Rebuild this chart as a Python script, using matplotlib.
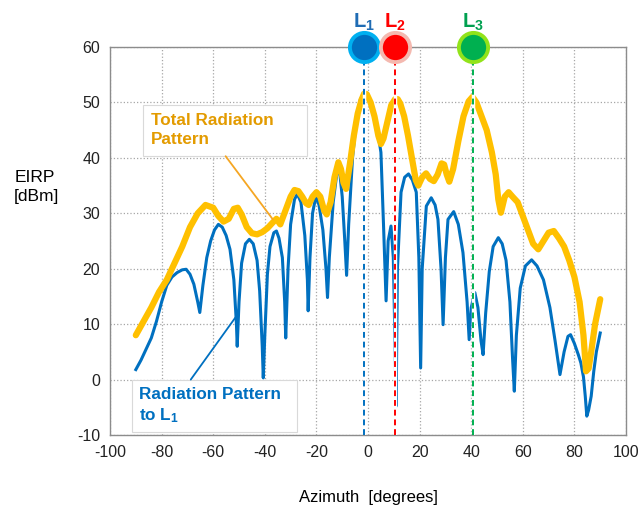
import matplotlib
matplotlib.use("Agg")
from matplotlib import pyplot as plt
from matplotlib.patches import Rectangle

plt.rcParams['font.family'] = ['Liberation Sans', 'DejaVu Sans']
plt.rcParams['mathtext.fontset'] = 'custom'
plt.rcParams['mathtext.rm'] = 'Liberation Sans'
plt.rcParams['mathtext.bf'] = 'Liberation Sans:bold'
plt.rcParams['axes.unicode_minus'] = False

# total radiation pattern (yellow)
total_az = [-90, -87, -84, -81, -78, -75, -72, -69, -66, -63, -60, -58, -56, -54, -52,
            -50.5, -49, -47, -45, -43, -41, -39, -37, -35.5, -34, -32, -30, -28.5, -27,
            -25.5, -24, -23, -21.5, -20, -18.5, -17, -16, -14.5, -13, -11.5, -10.5, -9.5,
            -8.5, -7, -5.5, -4, -2.5, -1.5, -0.5, 1, 2.5, 4, 5, 6, 7.5, 9, 10.5, 11.5,
            12.5, 14, 15.5, 17, 18.5, 19.5, 21, 22.5, 24, 25.5, 27, 28.5, 29.5, 30.5,
            31.5, 33, 35, 37, 39, 40.5, 42, 44, 46, 48, 49.5, 50.5, 51.5, 53, 54.5, 56,
            58, 60, 62, 64, 66, 68, 70, 72, 74, 76, 78, 80, 82, 83.5, 84.5, 85.5, 86.5,
            88, 90]
total_eirp = [8.0, 10.5, 13, 15.8, 18, 21, 24, 27.5, 30, 31.5, 31, 29.5, 28.5, 29, 30.8,
              31, 29.8, 27.5, 26.4, 26.2, 26.6, 27.3, 28.3, 29, 28, 30.5, 33, 34.2, 34,
              33, 31.8, 31.5, 33, 33.8, 33, 30.5, 29.8, 32, 36.5, 39.2, 38, 35.5,
              34.4, 39, 44, 48, 50.5, 51.6, 51.5, 50, 47.5, 44, 42.5, 43.5, 46.5, 49.5, 50.6, 50.6,
              49.8, 47.5, 44, 40, 36, 35, 36.5, 37.2, 36.2, 35.8, 37, 39, 38.8, 37,
              35.7, 38, 43, 47.5, 50.2, 51, 50, 47.5, 45, 41, 37, 32.5, 30.1, 33, 33.8, 33,
              32, 29.5, 27, 24.5, 23.5, 25, 26.5, 26.8, 25.5, 24, 21.5, 18.5, 14, 8, 1.5, 2, 5,
              10, 14.5]

# radiation pattern to L1 (blue)
l1_az = [-90, -88, -86, -84, -82, -80, -78, -76, -74, -72, -70.5, -69, -67.5, -66, -65.2,
         -64, -62.5, -61, -59.5, -58, -56.5, -55, -53.5, -52, -51, -50.7, -50, -49, -47.5,
         -46, -44.5, -43, -42, -41, -40.6, -40, -39, -38, -36.5, -35.5, -34.5, -33.2, -32.3,
         -31.9, -31, -30, -28.5, -27.4, -26, -24.5, -23.5, -23.2, -22.5, -21.5, -20.2, -19,
         -17.5, -16.3, -15.7, -15, -13.5, -12, -11, -10, -9, -8.3, -7.5, -6, -4.5, -3, -1.5,
         -0.5, 1, 2.5, 4, 5, 6, 7, 7.8, 8.9, 9.8, 10.4, 10.9, 11.4, 12.8, 14.2, 15.7, 17.2,
         18.7, 19.7, 20.4, 21, 22.6, 24.5, 26, 27.1, 28.3, 29.1, 30, 31, 33.2, 35, 36.8,
         38.4, 39.2, 40, 41.4, 42.6, 43.8, 44.6, 45.6, 47, 48.5, 50.5, 52, 53.5, 55, 56,
         56.7, 57.5, 59, 61, 63.4, 65.5, 68, 70.5, 72.5, 74.4, 76, 77.5, 78.5, 80, 81.5,
         82.5, 83.5, 84.2, 84.8, 85.5, 86.5, 87.5, 88.5, 90]
l1_eirp = [1.8, 3.5, 5.5, 7.5, 10.5, 14, 17, 18.5, 19.3, 19.8, 19.9, 19, 17.2, 14, 12.1,
           17, 22, 25, 27, 28, 27.5, 26, 23.5, 18, 10, 6.0, 14, 21, 24.5,
           25.3, 24.5, 21.5, 16, 6, 0.3, 8, 19, 24, 26.5, 26.8, 25.5, 22, 14,
           7.5, 20, 28, 32.5, 33.5, 32, 26, 18, 12.4, 22, 30, 33.1, 31.5,
           27, 20, 14.8, 22, 32, 37.5, 37.5, 33, 25, 18.8, 28, 40, 47, 50.5, 51.6,
           51.3, 49.5, 47, 44, 41, 28, 14.2, 25, 27.7, 22, 8, -4.8, 20, 33.8, 36.5, 37.1, 36,
           33.8, 22, 2.1, 20, 31.3, 32.8, 31.5, 28.9, 20, 9.9, 22, 28.9, 30.3, 28, 22.9,
           14, 7.2, 13, 15.7, 13, 7, 4.5, 12, 19.5, 24, 25.6, 24.5, 21.5, 14, 4,
           -2.1, 8, 16.5, 20.5, 21.6, 20.5, 18, 13, 7, 0.9, 5, 7.8, 8.1, 6.5, 4.5,
           3, 0.5, -3, -6.6, -5.5, -3, 1.5, 5, 8.4]

# target directions
target_names = ['$\\mathbf{L_1}$', '$\\mathbf{L_2}$', '$\\mathbf{L_3}$']
target_az = [-1.5, 10.3, 40.7]
target_fill = ['#0070C0', '#FF0000', '#00B050']
target_edge = ['#00B0F0', '#F4B9B0', '#92E31A']
target_text = ['#1F6CB4', '#FF0000', '#00A050']

fig = plt.figure(figsize=(6.43, 5.12), dpi=100)
ax = fig.add_axes([0.1711, 0.1504, 0.8025, 0.7578])

ax.plot(l1_az, l1_eirp, color='#0070C0', lw=2.2, zorder=3)
ax.plot(total_az, total_eirp, color='#FFC000', lw=4.5, zorder=4, solid_capstyle='round')

for name, az, fc, ec, tc in zip(target_names, target_az, target_fill, target_edge, target_text):
    ax.plot([az, az], [-10, 60], color='white', lw=2.5, zorder=5)
    ax.plot([az, az], [-10, 60], color=fc, lw=1.4, ls=(0, (3, 2)), zorder=6)
    ax.plot(az, 60, 'o', ms=21, mfc=fc, mec=ec, mew=2.8, clip_on=False, zorder=10)
    ax.text(az, 62.6, name, color=tc, fontsize=14.5, ha='center', va='bottom')

# callout boxes
ax.add_patch(Rectangle((-87.1, 40.3), 63.6, 9.2, fc='white', ec='#D9D9D9', lw=0.8, zorder=7))
ax.text(-84.1, 45.0, 'Total Radiation\nPattern', fontsize=12.3, fontweight='bold',
        color='#E39B00', ha='left', va='center', linespacing=1.3, zorder=8)
ax.annotate('', xy=(-36.9, 28.9), xytext=(-55.2, 40.3),
            arrowprops=dict(arrowstyle='-', color='#F5A623', lw=1.3, shrinkA=0, shrinkB=0),
            zorder=8)

ax.add_patch(Rectangle((-91.3, -9.4), 63.9, 9.4, fc='white', ec='#D9D9D9', lw=0.8, zorder=7))
ax.text(-88.7, -4.8, 'Radiation Pattern\nto $\\mathbf{L_1}$', fontsize=12.3, fontweight='bold',
        color='#0070C0', ha='left', va='center', linespacing=1.3, zorder=8)
ax.annotate('', xy=(-51.4, 11.2), xytext=(-68.7, 0),
            arrowprops=dict(arrowstyle='-', color='#0070C0', lw=1.3, shrinkA=0, shrinkB=0),
            zorder=8)

ax.set_xlim(-100, 100)
ax.set_ylim(-10, 60)
ax.set_xticks(range(-100, 101, 20))
ax.set_yticks(range(-10, 61, 10))
ax.grid(True, color='#A6A6A6', ls=':', lw=0.9)
ax.set_axisbelow(True)
ax.tick_params(length=0, labelsize=11.5, pad=7, colors='#222222')
for sp in ax.spines.values():
    sp.set_color('#8C8C8C')
    sp.set_linewidth(1.0)

ax.set_xlabel('Azimuth  [degrees]', fontsize=12, labelpad=22)
fig.text(0.022, 0.635, 'EIRP\n[dBm]', fontsize=12.5, ha='left', va='center', linespacing=1.3)

fig.savefig('out.png', dpi=100)
